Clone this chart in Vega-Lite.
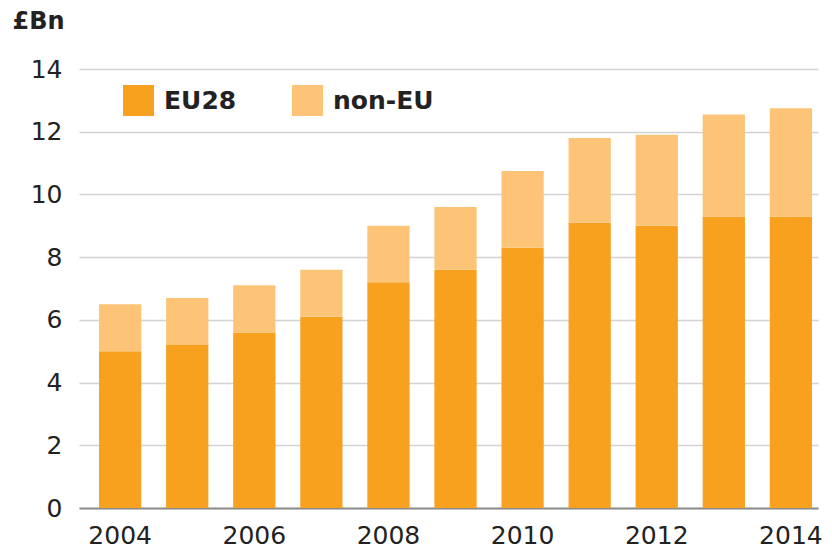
{
  "$schema": "https://vega.github.io/schema/vega-lite/v6.json",
  "width": 739,
  "height": 439,
  "autosize": {"type": "none"},
  "padding": {"left": 79, "top": 69, "right": 14, "bottom": 40},
  "background": "white",
  "config": {
    "view": {"stroke": null},
    "font": "DejaVu Sans",
    "axis": {"labelFont": "DejaVu Sans", "labelColor": "#222222", "labelFontSize": 25, "ticks": false}
  },
  "data": {
    "values": [
      {"year": "2004", "region": "EU28", "value": 5.0},
      {"year": "2004", "region": "non-EU", "value": 1.5},
      {"year": "2005", "region": "EU28", "value": 5.2},
      {"year": "2005", "region": "non-EU", "value": 1.5},
      {"year": "2006", "region": "EU28", "value": 5.6},
      {"year": "2006", "region": "non-EU", "value": 1.5},
      {"year": "2007", "region": "EU28", "value": 6.1},
      {"year": "2007", "region": "non-EU", "value": 1.5},
      {"year": "2008", "region": "EU28", "value": 7.2},
      {"year": "2008", "region": "non-EU", "value": 1.8},
      {"year": "2009", "region": "EU28", "value": 7.6},
      {"year": "2009", "region": "non-EU", "value": 2.0},
      {"year": "2010", "region": "EU28", "value": 8.3},
      {"year": "2010", "region": "non-EU", "value": 2.45},
      {"year": "2011", "region": "EU28", "value": 9.1},
      {"year": "2011", "region": "non-EU", "value": 2.7},
      {"year": "2012", "region": "EU28", "value": 9.0},
      {"year": "2012", "region": "non-EU", "value": 2.9},
      {"year": "2013", "region": "EU28", "value": 9.3},
      {"year": "2013", "region": "non-EU", "value": 3.25},
      {"year": "2014", "region": "EU28", "value": 9.3},
      {"year": "2014", "region": "non-EU", "value": 3.45}
    ]
  },
  "mark": {"type": "bar"},
  "encoding": {
    "x": {
      "field": "year",
      "type": "ordinal",
      "scale": {"paddingInner": 0.37, "paddingOuter": 0.194, "align": 0.77},
      "axis": {
        "title": null,
        "labelAngle": 0,
        "values": ["2004", "2006", "2008", "2010", "2012", "2014"],
        "domain": true,
        "domainColor": "#8c8c8c",
        "domainWidth": 2,
        "labelPadding": 15,
        "grid": false
      }
    },
    "y": {
      "field": "value",
      "type": "quantitative",
      "stack": "zero",
      "scale": {"domain": [0, 14], "nice": false},
      "axis": {
        "values": [0, 2, 4, 6, 8, 10, 12, 14],
        "domain": false,
        "grid": true,
        "gridColor": "#d2d2d2",
        "gridWidth": 1.5,
        "labelPadding": 17,
        "title": "£Bn",
        "titleAngle": 0,
        "titleX": -67,
        "titleY": -41,
        "titleAlign": "left",
        "titleBaseline": "alphabetic",
        "titleFont": "DejaVu Sans",
        "titleFontSize": 24,
        "titleFontWeight": "bold",
        "titleColor": "#222222"
      }
    },
    "color": {
      "field": "region",
      "type": "nominal",
      "scale": {"domain": ["EU28", "non-EU"], "range": ["#F7A11F", "#FDC477"]},
      "legend": {
        "title": null,
        "orient": "none",
        "legendX": 44,
        "legendY": 16,
        "direction": "horizontal",
        "symbolType": "square",
        "symbolSize": 960,
        "symbolStrokeWidth": 0,
        "symbolOpacity": 1,
        "labelFont": "DejaVu Sans",
        "labelFontSize": 25,
        "labelFontWeight": "bold",
        "labelColor": "#222222",
        "labelOffset": 10,
        "columnPadding": 55
      }
    },
    "order": {"field": "region", "sort": "ascending"}
  }
}
